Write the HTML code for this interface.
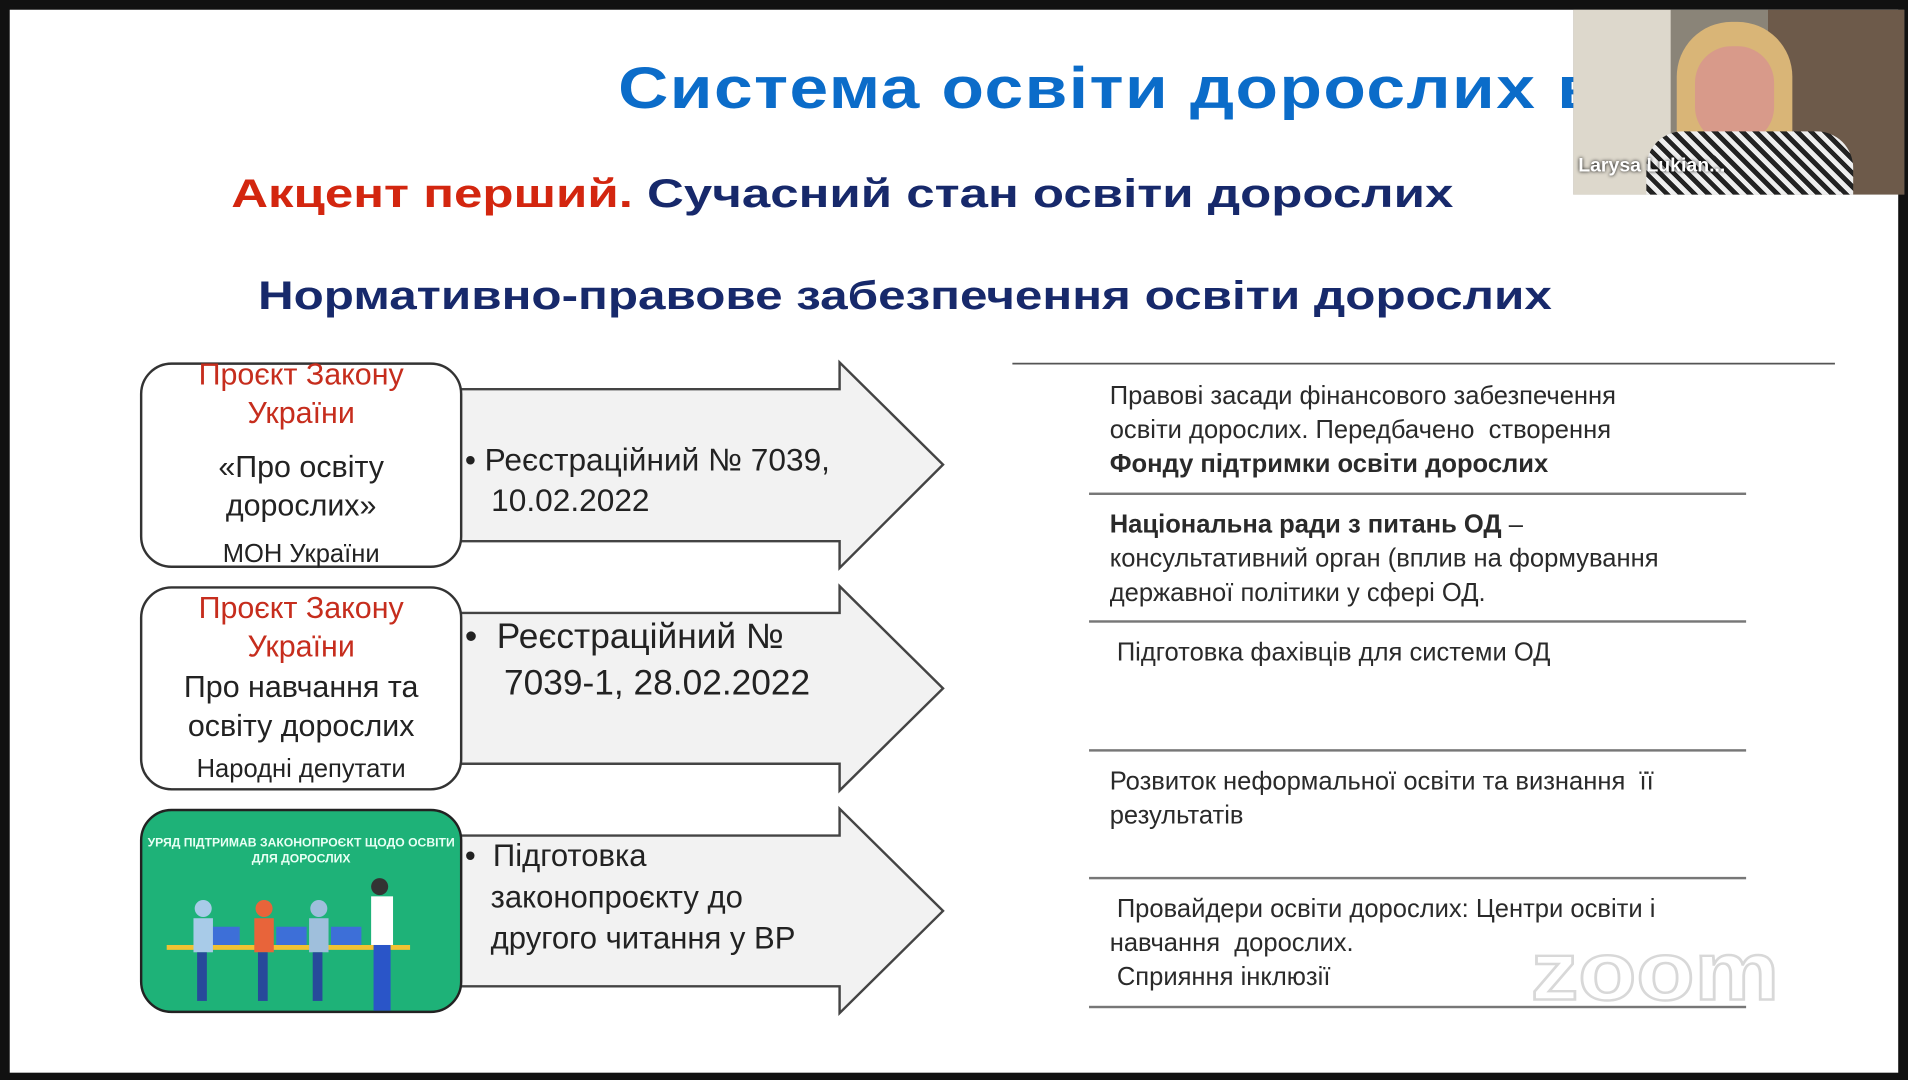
<!DOCTYPE html>
<html><head><meta charset="utf-8">
<style>
html,body{margin:0;padding:0;background:#111;}
#wrap{width:1908px;height:1080px;overflow:hidden;position:relative;background:#111;}
#s{position:absolute;left:0;top:0;width:1568px;height:888px;transform:scale(1.2168,1.2162);transform-origin:0 0;font-family:"Liberation Sans",sans-serif;}
.slide{position:absolute;left:8px;top:8px;width:1552px;height:874px;background:#fff;}
.a{position:absolute;white-space:nowrap;transform-origin:0 0;}
.box{position:absolute;left:115px;width:265px;border:2px solid #333;border-radius:26px;background:#fff;box-sizing:border-box;text-align:center;color:#222;font-size:25px;line-height:32px;}
.red{color:#c62d1d;}
.rt{position:absolute;left:912px;font-size:21px;line-height:28px;color:#2a2a2a;white-space:nowrap;}
.ln{position:absolute;left:895px;width:540px;height:1.5px;background:#777;}
.bul{position:absolute;font-size:26px;line-height:33px;color:#222;white-space:nowrap;}
</style></head><body><div id="wrap"><div id="s">
<div class="slide"></div>
<div class="a" style="left:508px;top:46px;font-size:48px;font-weight:bold;color:#0b6cc9;letter-spacing:1px;transform:scaleX(1.19);">Система освіти дорослих в</div>
<div class="a" style="left:190px;top:140px;font-size:33px;font-weight:bold;color:#d3260f;transform:scaleX(1.27);">Акцент перший. <span style="color:#17296b">Сучасний стан освіти дорослих</span></div>
<div class="a" style="left:212px;top:224px;font-size:33px;font-weight:bold;color:#17296b;transform:scaleX(1.23);">Нормативно-правове забезпечення освіти дорослих</div>

<svg style="position:absolute;left:0;top:0" width="1568" height="888">
<g fill="#f2f2f2" stroke="#444" stroke-width="2">
<polygon points="370,320 690,320 690,298 775,382 690,467 690,445 370,445"/>
<polygon points="370,504 690,504 690,482 775,566 690,650 690,628 370,628"/>
<polygon points="370,687 690,687 690,665 775,749 690,833 690,811 370,811"/>
</g>
<line x1="832" y1="299" x2="1508" y2="299" stroke="#555" stroke-width="1.5"/>
</svg>

<div class="box" style="top:298px;height:169px;"><div class="red" style="margin-top:-8px">Проєкт Закону<br>України</div><div style="margin-top:12px">«Про освіту<br>дорослих»</div><div style="font-size:21px;margin-top:8px">МОН України</div></div>
<div class="box" style="top:482px;height:168px;"><div class="red" style="margin-top:0px">Проєкт Закону<br>України</div><div style="margin-top:1px">Про навчання та<br>освіту дорослих</div><div style="font-size:21px;margin-top:4px">Народні депутати</div></div>
<div class="box" style="top:665px;height:168px;background:#1eb278;border-color:#222;overflow:hidden;">
<div style="color:#e8fff4;font-size:10px;line-height:13px;font-weight:bold;margin-top:20px">УРЯД ПІДТРИМАВ ЗАКОНОПРОЄКТ ЩОДО ОСВІТИ<br>ДЛЯ ДОРОСЛИХ</div>
<svg width="265" height="130" style="position:absolute;left:0;top:40px">
<rect x="20" y="70" width="200" height="4" fill="#f1c232"/>
<g fill="#3d6fd8"><rect x="55" y="55" width="25" height="15"/><rect x="110" y="55" width="25" height="15"/><rect x="155" y="55" width="25" height="15"/></g>
<g fill="#a8cbe8"><circle cx="50" cy="40" r="7"/><rect x="42" y="48" width="16" height="28"/></g>
<g fill="#e8643a"><circle cx="100" cy="40" r="7"/><rect x="92" y="48" width="16" height="28"/></g>
<g fill="#9fbfdc"><circle cx="145" cy="40" r="7"/><rect x="137" y="48" width="16" height="28"/></g>
<g><circle cx="195" cy="22" r="7" fill="#333"/><rect x="188" y="30" width="18" height="40" fill="#fff"/><rect x="190" y="70" width="14" height="55" fill="#2a55c8"/></g>
<g fill="#274a9a"><rect x="45" y="76" width="8" height="40"/><rect x="95" y="76" width="8" height="40"/><rect x="140" y="76" width="8" height="40"/></g>
</svg></div>

<div class="bul" style="left:382px;top:362px;font-size:26px;line-height:33px;">•&nbsp;Реєстраційний № 7039,<br>&nbsp;&nbsp;&nbsp;10.02.2022</div>
<div class="bul" style="left:382px;top:505px;font-size:29px;line-height:38px;">•&nbsp;&nbsp;Реєстраційний №<br>&nbsp;&nbsp;&nbsp;&nbsp;7039-1, 28.02.2022</div>
<div class="bul" style="left:382px;top:687px;font-size:25.5px;line-height:34px;">•&nbsp;&nbsp;Підготовка<br>&nbsp;&nbsp;&nbsp;законопроєкту до<br>&nbsp;&nbsp;&nbsp;другого читання у ВР</div>

<div class="rt" style="top:312px">Правові засади фінансового забезпечення<br>освіти дорослих. Передбачено &nbsp;створення<br><b>Фонду підтримки освіти дорослих</b></div>
<div class="ln" style="top:405px"></div>
<div class="rt" style="top:418px"><b>Національна ради з питань ОД</b> –<br>консультативний орган (вплив на формування<br>державної політики у сфері ОД.</div>
<div class="ln" style="top:510px"></div>
<div class="rt" style="top:523px">&nbsp;Підготовка фахівців для системи ОД</div>
<div class="ln" style="top:616px"></div>
<div class="rt" style="top:629px">Розвиток неформальної освіти та визнання &nbsp;її<br>результатів</div>
<div class="ln" style="top:721px"></div>
<div class="rt" style="top:734px">&nbsp;Провайдери освіти дорослих: Центри освіти і<br>навчання &nbsp;дорослих.<br>&nbsp;Сприяння інклюзії</div>
<div class="ln" style="top:827px"></div>
<div class="a" style="left:1258px;top:760px;font-size:68px;font-weight:bold;color:transparent;-webkit-text-stroke:2px #d8d8d8;transform:scaleX(1.15);">zoom</div>

<div style="position:absolute;left:1293px;top:8px;width:272px;height:152px;background:#8a8478;overflow:hidden;">
<div style="position:absolute;left:0;top:0;width:80px;height:152px;background:#ddd8cc"></div>
<div style="position:absolute;left:160px;top:0;width:112px;height:152px;background:#6d5a4a"></div>
<div style="position:absolute;left:85px;top:10px;width:95px;height:110px;border-radius:45px 45px 20px 20px;background:#d9b577"></div>
<div style="position:absolute;left:100px;top:30px;width:65px;height:80px;border-radius:30px;background:#d89a8a"></div>
<div style="position:absolute;left:60px;top:100px;width:170px;height:60px;border-radius:30px 30px 0 0;background:repeating-linear-gradient(45deg,#222 0 4px,#eee 4px 8px)"></div>
<div style="position:absolute;left:4px;top:120px;color:#fff;font-size:16px;font-weight:bold;text-shadow:0 0 3px #000;">Larysa Lukian...</div>
</div>
</div></div></body></html>
